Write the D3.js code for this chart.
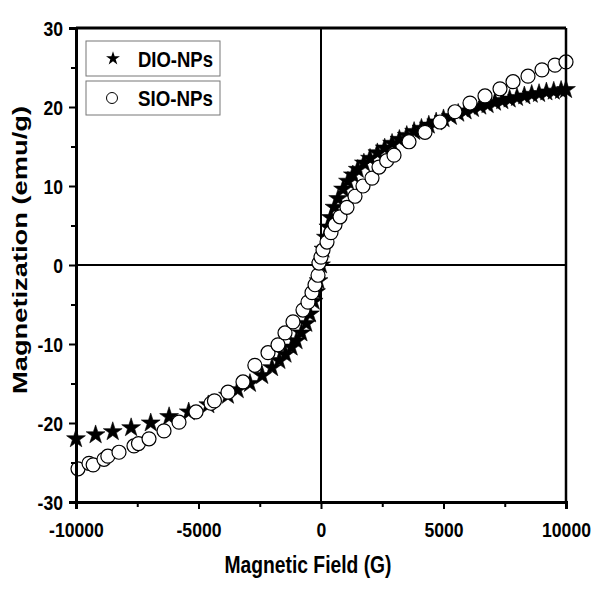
<!DOCTYPE html>
<html><head><meta charset="utf-8">
<script src="https://cdn.jsdelivr.net/npm/d3@7"></script>
<style>body{margin:0;background:#fff}text{font-family:"Liberation Sans",Arial,sans-serif;font-weight:bold}</style>
</head><body><svg id="c" width="600" height="600"></svg>
<script>
const seriesNames = ["DIO-NPs", "SIO-NPs"];
const xTicks = [-10000, -5000, 0, 5000, 10000];
const xMinor = [-7500, -2500, 2500, 7500];
const yTicks = [-30, -20, -10, 0, 10, 20, 30];
const yMinor = [-25, -15, -5, 5, 15, 25];
const xTitle = "Magnetic Field (G)";
const yTitle = "Magnetization (emu/g)";

// DIO-NPs (stars): field (G), magnetization (emu/g)
const dioH = [-10000,-9200,-8500,-7750,-6950,-6200,-5400,-4600,-3800,-3400,-2900,-2400,-2000,-1700,-1450,-1200,-1000,-800,-600,-450,-300,-200,-100,0,100,200,300,400,550,700,900,1100,1300,1500,1750,2000,2300,2600,2900,3200,3500,3800,4100,4400,4700,5000,5300,5600,5900,6200,6500,6800,7100,7400,7700,8000,8300,8600,8900,9200,9500,9800,10000];
const dioM = [-22.0,-21.5,-21.1,-20.6,-20.0,-19.2,-18.6,-17.7,-16.5,-15.8,-15.0,-14.0,-13.0,-12.1,-11.3,-10.4,-9.6,-8.6,-7.4,-6.2,-4.6,-3.4,-2.0,0.0,2.0,3.5,4.8,6.0,7.3,8.4,9.6,10.6,11.4,12.1,12.9,13.5,14.2,14.8,15.4,15.9,16.4,16.9,17.3,17.7,18.1,18.5,18.8,19.2,19.5,19.8,20.1,20.3,20.6,20.8,21.0,21.2,21.4,21.6,21.7,21.9,22.0,22.1,22.2];

// SIO-NPs (open circles)
const sioH = [-9918,-9469,-9300,-8857,-8700,-8245,-7633,-7450,-7020,-6408,-5796,-5102,-4490,-4350,-3796,-3184,-2700,-2163,-1755,-1469,-1143,-735,-531,-367,-245,-122,-82,0,82,245,408,571,776,1061,1388,1714,2082,2367,2680,2980,3592,4245,4857,5469,6082,6694,7306,7837,8449,9020,9551,10000];
const sioM = [-25.8,-25.1,-25.3,-24.6,-24.2,-23.7,-22.9,-22.6,-22.0,-21.0,-19.9,-18.6,-17.5,-17.2,-16.1,-14.8,-12.7,-11.1,-10.1,-8.6,-7.2,-5.7,-4.7,-3.5,-2.5,-1.3,0.25,1.0,1.9,2.9,4.1,5.1,6.1,7.3,8.7,10.0,11.0,12.4,13.2,13.9,15.6,16.8,18.1,19.4,20.5,21.4,22.3,23.2,23.9,24.7,25.3,25.7];

const svg = d3.select("#c");
const L = 76, R = 566, T = 28, B = 502;
const x = d3.scaleLinear().domain([-10000, 10000]).range([L, R]);
const y = d3.scaleLinear().domain([-30, 30]).range([B, T]);

function narrow(sel, f) {
  sel.each(function () {
    const w = this.getComputedTextLength();
    d3.select(this).attr("textLength", w * f).attr("lengthAdjust", "spacingAndGlyphs");
  });
}

// zero lines
svg.append("line").attr("x1", L).attr("x2", R).attr("y1", y(0)).attr("y2", y(0)).attr("stroke", "#000").attr("stroke-width", 2);
svg.append("line").attr("x1", x(0)).attr("x2", x(0)).attr("y1", T).attr("y2", B).attr("stroke", "#000").attr("stroke-width", 2);

// data: stars
const star = d3.symbol().type(d3.symbolStar).size(110);
svg.append("g").selectAll("path").data(dioH.map((h, i) => [h, dioM[i]])).join("path")
  .attr("d", star).attr("transform", d => `translate(${x(d[0])},${y(d[1])})`)
  .attr("fill", "#000").attr("stroke", "#000").attr("stroke-width", 0.6);

// circles
svg.append("g").selectAll("circle").data(sioH.map((h, i) => [h, sioM[i]])).join("circle")
  .attr("cx", d => x(d[0])).attr("cy", d => y(d[1])).attr("r", 7)
  .attr("fill", "#fff").attr("stroke", "#000").attr("stroke-width", 1.2);

// axes
const xAxis = d3.axisBottom(x).tickValues(xTicks).tickSize(7).tickFormat(d => String(d));
const gx = svg.append("g").attr("transform", `translate(0,${B})`).call(xAxis);
gx.select(".domain").attr("stroke-width", 3);
gx.selectAll(".tick line").attr("stroke-width", 2);
gx.selectAll("text").attr("font-size", 20).attr("fill", "#000").attr("y", 35).attr("dy", 0).call(narrow, 0.88);
svg.append("g").attr("transform", `translate(0,${B})`).call(d3.axisBottom(x).tickValues(xMinor).tickSize(5).tickFormat(""))
  .call(g => g.select(".domain").remove()).selectAll("line").attr("stroke-width", 2);

const yAxis = d3.axisLeft(y).tickValues(yTicks).tickSize(7).tickPadding(6).tickFormat(d => String(d));
const gy = svg.append("g").attr("transform", `translate(${L},0)`).call(yAxis);
gy.select(".domain").attr("stroke-width", 3);
gy.selectAll(".tick line").attr("stroke-width", 2);
gy.selectAll("text").attr("font-size", 20).attr("fill", "#000").attr("dy", "0.36em").call(narrow, 0.88);
svg.append("g").attr("transform", `translate(${L},0)`).call(d3.axisLeft(y).tickValues(yMinor).tickSize(5).tickFormat(""))
  .call(g => g.select(".domain").remove()).selectAll("line").attr("stroke-width", 2);

// top and right frame
svg.append("line").attr("x1", L).attr("x2", R).attr("y1", T).attr("y2", T).attr("stroke", "#000").attr("stroke-width", 3);
svg.append("line").attr("x1", R).attr("x2", R).attr("y1", T).attr("y2", B).attr("stroke", "#000").attr("stroke-width", 2.5);

// titles
svg.append("text").attr("x", 308).attr("y", 573).attr("text-anchor", "middle").attr("font-size", 23)
  .attr("textLength", 167).attr("lengthAdjust", "spacingAndGlyphs").text(xTitle);
svg.append("text").attr("transform", `translate(27,250) rotate(-90)`).attr("text-anchor", "middle")
  .attr("font-family", "DejaVu Sans").attr("font-size", 20).attr("textLength", 288).attr("lengthAdjust", "spacingAndGlyphs").text(yTitle);

// legend
const lg = svg.append("g");
[[41, 76], [81, 115]].forEach((b, i) => {
  lg.append("rect").attr("x", 86).attr("y", b[0]).attr("width", 134).attr("height", b[1] - b[0])
    .attr("fill", "#fff").attr("stroke", "#777").attr("stroke-width", 1);
  const cy = (b[0] + b[1]) / 2;
  if (i === 0) lg.append("path").attr("d", d3.symbol().type(d3.symbolStar).size(60)).attr("transform", `translate(113,${cy})`).attr("fill", "#000");
  else lg.append("circle").attr("cx", 112).attr("cy", cy).attr("r", 5.5).attr("fill", "#fff").attr("stroke", "#000").attr("stroke-width", 1);
  lg.append("text").attr("x", 138).attr("y", cy + 8).attr("font-size", 22)
    .attr("textLength", 75).attr("lengthAdjust", "spacingAndGlyphs").text(seriesNames[i]);
});
</script></body></html>
